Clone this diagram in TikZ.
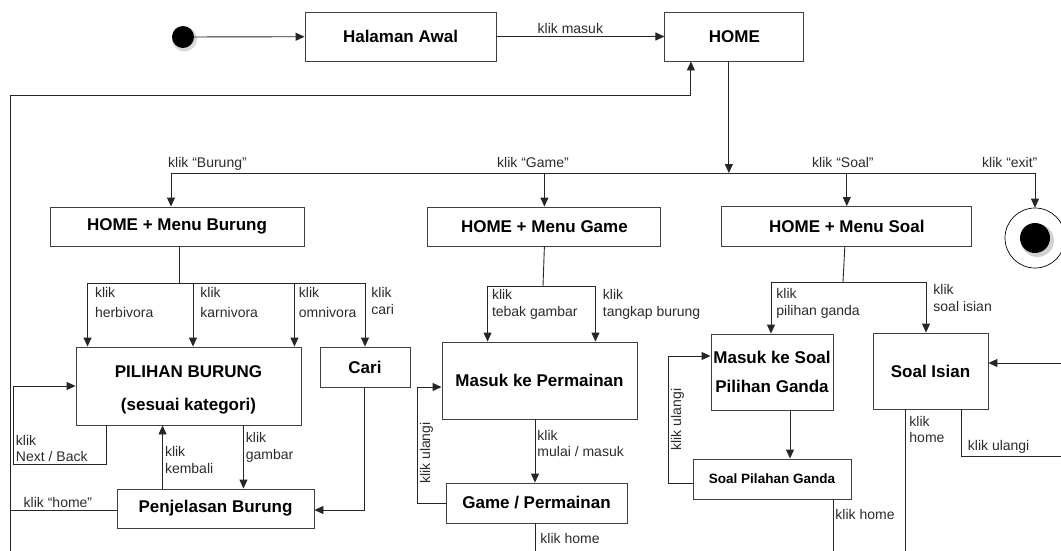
\documentclass[tikz,border=0pt]{standalone}
\usepackage{fontspec}
\setmainfont{Liberation Sans}
\usetikzlibrary{arrows.meta,positioning}
\definecolor{BoxLine}{HTML}{404040}
\definecolor{TextGray}{HTML}{2B2B2B}
\tikzset{%
  statebox/.style={draw=BoxLine,line width=0.9pt,fill=white,align=center,
    inner sep=0pt,font=\bfseries\fontsize{17}{21}\selectfont},
  smallbox/.style={statebox,font=\bfseries\fontsize{13.5}{16}\selectfont},
  startdot/.style={circle,fill=black,minimum size=22pt,inner sep=0pt},
  enddot/.style={circle,draw=black,line width=0.7pt,minimum size=60pt,inner sep=0pt},
  flow/.style={-{Triangle[length=9pt,width=8pt]},line width=0.9pt,black!85},
  link/.style={line width=0.9pt,black!85},
  lbl/.style={font=\fontsize{14}{16.5}\selectfont,text=TextGray,align=left,inner sep=2pt}
}

\begin{document}
\begin{tikzpicture}[x=1pt,y=-1pt]
  \useasboundingbox (0,0) rectangle (1061,550);
  % baris atas
  \node[statebox,minimum width=191pt,minimum height=49pt] (awal) at (400.5,36.5) {Halaman Awal};
  \node[statebox,minimum width=139pt,minimum height=49pt,right=168pt of awal] (home) {HOME};
  \fill[black!15] (184.5,39) circle (12.5pt);
  \node[startdot] (start) at (183,37) {};

  % menu
  \node[statebox,minimum width=254pt,minimum height=39pt] (mburung) at (177,226.5) {HOME + Menu Burung};
  \node[statebox,minimum width=233pt,minimum height=39pt,right=123pt of mburung] (mgame) {HOME + Menu Game};
  \node[statebox,minimum width=250pt,minimum height=40pt,right=60pt of mgame] (msoal) {HOME + Menu Soal};
  \node[enddot] (selesai) at (1035,238) {};
  \fill[black!18] (1037.5,240.5) circle (16.5pt);
  \fill[black] (1035,238) circle (15pt);

  % isi
  \node[statebox,minimum width=225pt,minimum height=78pt] (pilihan) at (188.5,386) {\\[-2pt]PILIHAN BURUNG\\[12pt](sesuai kategori)};
  \node[statebox,minimum width=90pt,minimum height=40pt] (cari) at (365,367) {Cari};
  \node[statebox,minimum width=197pt,minimum height=39pt] (jelas) at (215.5,508.5) {Penjelasan Burung};
  \node[statebox,minimum width=195pt,minimum height=77pt] (masukgame) at (539.5,380.5) {Masuk ke Permainan};
  \node[statebox,minimum width=181pt,minimum height=40pt] (permainan) at (536.5,503) {Game / Permainan};
  \node[statebox,minimum width=122pt,minimum height=76pt] (masuksoal) at (772,372) {Masuk ke Soal\\[8pt]Pilihan Ganda};
  \node[smallbox,minimum width=158pt,minimum height=40pt] (soalpg) at (772,479) {Soal Pilahan Ganda};
  \node[statebox,minimum width=115pt,minimum height=76pt] (isian) at (930.5,371) {Soal Isian};

  \coordinate (kiribawah) at (10,556);
  \coordinate (busL) at (171,173);
  \coordinate (busR) at (1035,173);
  \coordinate (cabB) at (179,283);
  \coordinate (cabG) at (543,286);
  \coordinate (cabS) at (843,282);
  \coordinate (gbawah) at (535,556);
  \coordinate (pgbawah) at (833,556);
  \coordinate (isbawah) at (905,556);
  \coordinate (ulangiA) at (1066,456);
  \coordinate (ulangiB) at (1066,363);

  \draw[flow] (start) -- (awal);
  \draw[flow] (awal) -- node[lbl,above,pos=0.44] {klik masuk} (home);
  \draw[flow] (kiribawah) |- ([xshift=-43.5pt,yshift=-34pt]home.south) -- ([xshift=-43.5pt]home.south);

  % pilihan menu
  \draw[link] (busL) -- (busR);
  \draw[flow] ([xshift=-5.5pt]home.south) -- ([xshift=-5.5pt]home.south |- busL);
  \draw[flow] (busL) -- (busL |- mburung.north);
  \draw[flow] (mgame.north |- busL) -- (mgame.north);
  \draw[flow] (msoal.north |- busL) -- (msoal.north);
  \draw[flow] (busR) -- (selesai.north);
  \node[lbl,anchor=base west] (lburung) at (166,167) {klik “Burung”};
  \node[lbl,anchor=base west] (lgame) at (495,167) {klik “Game”};
  \node[lbl,anchor=base west] (lsoal) at (810,167) {klik “Soal”};
  \node[lbl,anchor=base west] (lexit) at (980,167) {klik “exit”};

  % burung
  \draw[link] ([xshift=2pt]mburung.south) -- (cabB);
  \draw[flow] (cabB) -| node[lbl,pos=0.5,anchor=north west,xshift=5pt,yshift=-2pt] {klik\\[3.5pt]herbivora} ([xshift=12pt]pilihan.north west);
  \draw[flow] (cabB) -| node[lbl,pos=0.5,anchor=north west,xshift=5pt,yshift=-2pt] {klik\\[3.5pt]karnivora} ([xshift=4.5pt]pilihan.north);
  \draw[flow] (cabB) -| node[lbl,pos=0.5,anchor=north west,xshift=2pt,yshift=-2pt] {klik\\[3.5pt]omnivora} ([xshift=-7pt]pilihan.north east);
  \draw[flow] (cabB) -| node[lbl,pos=0.5,anchor=north west,xshift=4pt,yshift=-2pt] {klik\\cari} (cari.north);
  \draw[flow] ([xshift=31pt]pilihan.south west) |- node[lbl,pos=1,anchor=south west] {klik\\Next / Back} ++(-93,39) |- (pilihan.west);
  \draw[flow] ([xshift=46pt]jelas.north west) -- node[lbl,right,pos=0.45] {klik\\kembali} ([xshift=46pt]jelas.north west |- pilihan.south);
  \draw[flow] ([xshift=-58pt]pilihan.south east) -- node[lbl,right,pos=0.35] {klik\\gambar} ([xshift=-58pt]pilihan.south east |- jelas.north);
  \draw[flow] ([xshift=-1pt]cari.south) |- ([yshift=-1.5pt]jelas.east);
  \draw[link] ([yshift=-1.5pt]jelas.west) -- node[lbl,above,pos=0.55] {klik “home”} ([yshift=-1.5pt]jelas.west -| kiribawah);

  % game
  \draw[link] (mgame.south) -- (cabG);
  \draw[flow] (cabG) -| node[lbl,pos=0.5,anchor=north west,xshift=2pt,yshift=-1pt] {klik\\tebak gambar} ([xshift=46pt]masukgame.north west);
  \draw[flow] (cabG) -| node[lbl,pos=0.5,anchor=north west,xshift=5pt,yshift=-1pt] {klik\\tangkap burung} ([xshift=-42pt]masukgame.north east);
  \draw[flow] ([xshift=-4.5pt]masukgame.south) -- node[lbl,right,pos=0.38] {klik\\mulai / masuk} ([xshift=-4.5pt]masukgame.south |- permainan.north);
  \draw[flow] (permainan.west) -- ++(-28,0) -- node[lbl,rotate=90,anchor=north,pos=0.43] {klik ulangi} ++(0,-116) -- ([yshift=-6.5pt]masukgame.west);
  \draw[link] (permainan.south -| gbawah) -- node[lbl,anchor=west,pos=0.45,xshift=3pt] {klik home} (gbawah);

  % soal
  \draw[link] ([xshift=-2pt]msoal.south) -- (cabS);
  \draw[flow] (cabS) -| node[lbl,pos=0.5,anchor=north west,xshift=3pt,yshift=-4pt] {klik\\pilihan ganda} ([xshift=-1pt]masuksoal.north);
  \draw[flow] (cabS) -| node[lbl,pos=0.5,anchor=north west,xshift=5pt] {klik\\soal isian} ([xshift=-4.5pt]isian.north);
  \draw[flow] ([xshift=18pt]masuksoal.south) -- ([xshift=18pt]masuksoal.south |- soalpg.north);
  \draw[flow] ([yshift=-4pt]soalpg.west) -- ++(-24,0) -- node[lbl,rotate=90,anchor=north,pos=0.5] {klik ulangi} ++(0,-127) -- ([yshift=16pt]masuksoal.west);
  \draw[link] (soalpg.south -| pgbawah) -- node[lbl,anchor=west,pos=0.26] {klik home} (pgbawah);
  \draw[link] (isian.south -| isbawah) -- node[lbl,anchor=north west,pos=0,xshift=2pt,yshift=-4pt] {klik\\home} (isbawah);
  \draw[link] ([xshift=-27pt]isian.south east) |- node[lbl,pos=0.5,anchor=south west,xshift=4pt] {klik ulangi} (ulangiA);
  \draw[flow] (ulangiB) -- ([yshift=8pt]isian.east);
\end{tikzpicture}
\end{document}
